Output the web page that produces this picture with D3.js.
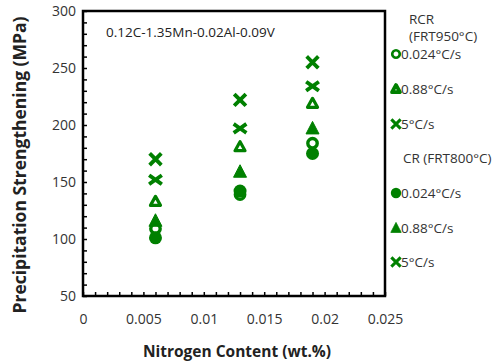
<!DOCTYPE html>
<html>
<head>
<meta charset="utf-8">
<script src="https://cdn.jsdelivr.net/npm/d3@7"></script>
<style>
  body { margin: 0; background: #fff; }
  text { font-family: "Open Sans", sans-serif; }
</style>
</head>
<body>
<script>
// data
const nitrogen = [0.006, 0.013, 0.019];
const rcr024 = [109, 139, 184];
const rcr088 = [133, 181, 219];
const rcr5 = [170, 222, 255];
const cr024 = [101, 142, 175];
const cr088 = [116, 159, 197];
const cr5 = [152, 197, 234];

const yTicks = [50, 100, 150, 200, 250, 300];
const xTicks = [0, 0.005, 0.01, 0.015, 0.02, 0.025];
const xTickLabels = ["0", "0.005", "0.01", "0.015", "0.02", "0.025"];

const seriesNames = ["0.024°C/s", "0.88°C/s", "5°C/s"];

var width = 504;
var height = 364;
var green = "#008000";

// plot box
var plotLeft = 83, plotRight = 385, plotTop = 11, plotBottom = 296;

var x = d3.scaleLinear().domain([0, 0.025]).range([plotLeft, plotRight]);
var y = d3.scaleLinear().domain([50, 300]).range([plotBottom, plotTop]);

var svg = d3.select("body")
    .append("svg")
    .attr("width", width)
    .attr("height", height);

// axes with inward minor ticks
var yAxis = d3.axisLeft(y)
    .tickValues(d3.range(50, 301, 10))
    .tickSize(-4)
    .tickSizeOuter(0)
    .tickPadding(7)
    .tickFormat(d => yTicks.includes(d) ? d : "");

var xAxis = d3.axisBottom(x)
    .tickValues(d3.range(0, 26).map(i => i / 1000))
    .tickSize(-4)
    .tickSizeOuter(0)
    .tickPadding(18)
    .tickFormat(d => {
        let i = xTicks.findIndex(t => Math.abs(t - d) < 1e-9);
        return i >= 0 ? xTickLabels[i] : "";
    });

var gy = svg.append("g")
    .attr("transform", "translate(" + plotLeft + ",0)")
    .call(yAxis);
var gx = svg.append("g")
    .attr("transform", "translate(0," + plotBottom + ")")
    .call(xAxis);

[gx, gy].forEach(g => {
    g.select(".domain").remove();
    g.selectAll("line").attr("stroke", "#000").attr("stroke-width", 1.5);
    g.selectAll("text")
        .attr("fill", "#333")
        .style("font-size", "14px")
        .style("font-family", "'Open Sans', sans-serif");
});

svg.append("rect")
    .attr("x", plotLeft)
    .attr("y", plotTop)
    .attr("width", plotRight - plotLeft)
    .attr("height", plotBottom - plotTop)
    .attr("fill", "none")
    .attr("stroke", "#000")
    .attr("stroke-width", 2.5);

// titles
svg.append("text")
    .attr("x", 237)
    .attr("y", 357)
    .attr("text-anchor", "middle")
    .style("font-size", "15.5px")
    .style("font-weight", "bold")
    .attr("fill", "#222")
    .text("Nitrogen Content (wt.%)");

svg.append("text")
    .attr("transform", "translate(26,165) rotate(-90)")
    .attr("text-anchor", "middle")
    .style("font-size", "17.5px")
    .style("font-weight", "bold")
    .attr("fill", "#222")
    .text("Precipitation Strengthening (MPa)");

svg.append("text")
    .attr("x", 106)
    .attr("y", 37)
    .style("font-size", "13.5px")
    .attr("fill", "#222")
    .text("0.12C-1.35Mn-0.02Al-0.09V");

// marker drawing
function drawMarker(g, kind) {
    if (kind == "openCircle") {
        g.append("circle").attr("r", 4.7)
            .attr("fill", "#fff").attr("stroke", green).attr("stroke-width", 3.4);
    } else if (kind == "circle") {
        g.append("circle").attr("r", 6.5).attr("fill", green);
    } else if (kind == "openTriangle") {
        g.append("path")
            .attr("d", "M0,-5L5,4L-5,4Z")
            .attr("fill", "#fff").attr("stroke", green)
            .attr("stroke-width", 3.2).attr("stroke-linejoin", "round");
    } else if (kind == "triangle") {
        g.append("path")
            .attr("d", "M0,-7L6.5,5.5L-6.5,5.5Z")
            .attr("fill", green).attr("stroke", green)
            .attr("stroke-width", 1).attr("stroke-linejoin", "round");
    } else if (kind == "cross") {
        g.append("path")
            .attr("d", "M-4.5,-4.5L4.5,4.5M-4.5,4.5L4.5,-4.5")
            .attr("stroke", green).attr("stroke-width", 3.8)
            .attr("stroke-linecap", "square");
    } else if (kind == "crossFlat") {
        g.append("path")
            .attr("d", "M-4.8,-3.4L4.8,3.4M-4.8,3.4L4.8,-3.4")
            .attr("stroke", green).attr("stroke-width", 3.8)
            .attr("stroke-linecap", "square");
    }
}

var series = [
    {values: rcr024, kind: "openCircle"},
    {values: rcr088, kind: "openTriangle"},
    {values: rcr5, kind: "cross"},
    {values: cr024, kind: "circle"},
    {values: cr088, kind: "triangle"},
    {values: cr5, kind: "crossFlat"}
];

series.forEach(s => {
    svg.append("g").selectAll("g")
        .data(s.values)
        .enter()
        .append("g")
        .attr("transform", (d, i) => "translate(" + x(nitrogen[i]) + "," + y(d) + ")")
        .each(function () { drawMarker(d3.select(this), s.kind); });
});

// legend
var legend = svg.append("g").attr("fill", "#333").style("font-size", "13.5px");
legend.append("text").attr("x", 409).attr("y", 24).text("RCR");
legend.append("text").attr("x", 409).attr("y", 41).text("(FRT950°C)");
legend.append("text").attr("x", 403).attr("y", 163).text("CR (FRT800°C)");

var legendRows = [
    {kind: "openCircle", label: seriesNames[0], y: 54},
    {kind: "openTriangle", label: seriesNames[1], y: 89},
    {kind: "cross", label: seriesNames[2], y: 124},
    {kind: "circle", label: seriesNames[0], y: 193},
    {kind: "triangle", label: seriesNames[1], y: 228},
    {kind: "cross", label: seriesNames[2], y: 262}
];

legendRows.forEach(r => {
    let g = legend.append("g").attr("transform", "translate(396," + r.y + ") scale(0.8)");
    drawMarker(g, r.kind);
    if (r.kind == "openTriangle") g.select("path").attr("stroke-width", 4.6);
    legend.append("text").attr("x", 401).attr("y", r.y + 5).text(r.label);
});
</script>
</body>
</html>
